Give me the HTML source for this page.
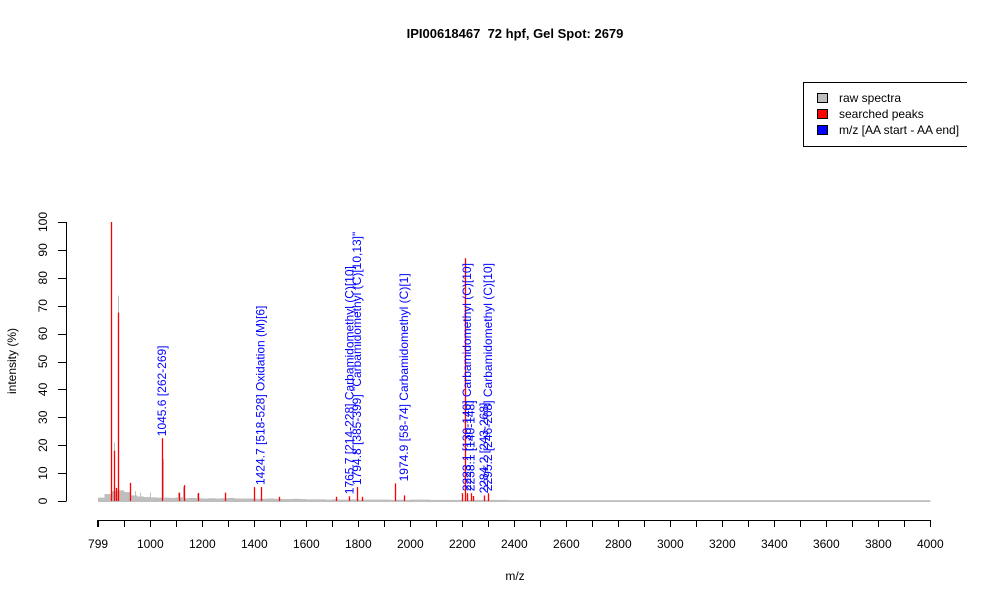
<!DOCTYPE html>
<html><head><meta charset="utf-8"><style>
body{margin:0;background:#fff;}
svg{display:block;font-family:"Liberation Sans",sans-serif;}
</style></head><body>
<svg id="chart" width="1000" height="600">
<text x="515" y="38" text-anchor="middle" font-weight="bold" font-size="13" style="white-space:pre">IPI00618467  72 hpf, Gel Spot: 2679</text>
<text transform="translate(16,361) rotate(-90)" text-anchor="middle" font-size="12">intensity (%)</text>
<text x="515" y="580" text-anchor="middle" font-size="12">m/z</text>
<g>
<rect x="803.5" y="82.5" width="170" height="64" fill="#fff" stroke="#000"/>
<rect x="817.5" y="93.5" width="10" height="9" fill="#bebebe" stroke="#000"/>
<text x="839" y="102" font-size="12">raw spectra</text>
<rect x="817.5" y="109.5" width="10" height="9" fill="#ff0000" stroke="#000"/>
<text x="839" y="118" font-size="12">searched peaks</text>
<rect x="817.5" y="125.5" width="10" height="9" fill="#0000ff" stroke="#000"/>
<text x="839" y="134" font-size="12">m/z [AA start - AA end]</text>
</g>
<rect x="967" y="0" width="33" height="160" fill="#fff"/>
<g id="plot"></g>
</svg>
<script>
// noise baseline, one value per 25 m/z bin from 799
const noiseStart = 799;
const noiseStep = 25;
const noise = [1.2,2.5,3.5,3.8,3.2,2.0,1.6,1.4,1.3,1.2,1.2,1.1,1.3,1.0,1.1,1.0,0.9,1.0,0.9,1.0,1.1,0.9,0.9,0.9,0.8,0.8,0.9,0.8,0.7,0.7,0.8,0.7,0.6,0.6,0.6,0.5,0.6,0.5,0.5,0.6,0.5,0.5,0.5,0.5,0.5,0.4,0.5,0.4,0.5,0.5,0.5,0.4,0.4,0.4,0.4,0.4,0.4,0.4,0.4,0.4,0.4,0.4,0.4,0.3,0.3,0.3,0.3,0.3,0.3,0.3,0.3,0.3,0.3,0.3,0.3,0.3,0.3,0.3,0.3,0.3,0.3,0.3,0.3,0.3,0.3,0.3,0.3,0.3,0.3,0.3,0.3,0.3,0.3,0.3,0.3,0.3,0.3,0.3,0.3,0.3,0.3,0.3,0.3,0.3,0.3,0.3,0.3,0.3,0.3,0.3,0.3,0.3,0.3,0.3,0.3,0.3,0.3,0.3,0.3,0.3,0.3,0.3,0.3,0.3,0.3,0.3,0.3,0.3];
// raw (gray) peaks
const rawMz = [859,874.3,1050,1108,1127,1181,1000,960,940];
const rawInt = [21,73.6,15,3,5,2.5,3,3,3.5];
// searched (red) peaks
const peakMz = [847.4,859,866.6,874.3,920.4,1045.6,1108.6,1127.9,1181.6,1285.4,1400.6,1424.7,1496.6,1715.6,1765.7,1794.8,1813,1942,1974.9,2197,2210,2219,2232,2240,2284,2299];
const peakInt = [100,18,4.7,67.5,6.5,22.5,3,5.7,2.9,3,5,5,1.5,1.5,1.7,5,1.5,6.3,2,2.8,87,2.8,2.8,1.8,2,2.8];
// annotations
const labelMz = [1045.6,1424.7,1765.7,1794.8,1974.9,2219,2232,2284,2299];
const labelInt = [22.5,5,1.7,5,6.3,2.8,2.8,2,2.8];
const labelText = ["1045.6 [262-269]","1424.7 [518-528] Oxidation (M)[6]","1765.7 [214-228] Carbamidomethyl (C)[10]","1794.8 [385-399] \"Carbamidomethyl (C)[10,13]\"","1974.9 [58-74] Carbamidomethyl (C)[1]","2223.1 [130-140] Carbamidomethyl (C)[10]","2238.1 [140-148]","2284.2 [243-268]","2295.2 [246-268] Carbamidomethyl (C)[10]"];
const xTicks = [799,1000,1200,1400,1600,1800,2000,2200,2400,2600,2800,3000,3200,3400,3600,3800,4000];
const yTicks = [0,10,20,30,40,50,60,70,80,90,100];

const X = mz => 150.3 + (mz - 1000) * 0.26;
const Y = v => 501 - v * 2.79;
const NS = "http://www.w3.org/2000/svg";
const g = document.getElementById('plot');
function mk(tag, attrs, parent){const e=document.createElementNS(NS,tag);for(const k in attrs)e.setAttribute(k,attrs[k]);(parent||g).appendChild(e);return e;}

const noiseG = mk('g',{});


noise.forEach((v,i)=>{
  const x0=X(noiseStart+i*noiseStep), x1=X(noiseStart+(i+1)*noiseStep);
  if(x0>933)return;
  mk('rect',{x:x0,y:Y(v),width:Math.min(x1,933)-x0+0.3,height:501-Y(v)+1,fill:'#bebebe'},noiseG);
});
rawMz.forEach((m,i)=>{
  const x=Math.round(X(m))+0.5;
  const l=mk('line',{x1:x,x2:x,y1:501,y2:Y(rawInt[i]),stroke:'#bebebe','stroke-width':1});
  
  
});
peakMz.forEach((m,i)=>{
  const x=Math.round(X(m))+0.5;
  const l=mk('line',{x1:x,x2:x,y1:501,y2:Y(peakInt[i]),stroke:'#ff0000','stroke-width':1.3});
  
  
});
labelMz.forEach((m,i)=>{
  const x=X(m)+4, y=Y(labelInt[i])-2;
  const t=mk('text',{transform:`translate(${x},${y}) rotate(-90)`,'font-size':12,fill:'#0000ff'});
  t.textContent=labelText[i];
  
  
});
// y axis
const ya=mk('g',{});


mk('line',{x1:66.5,x2:66.5,y1:Y(0),y2:Y(100),stroke:'#000'},ya);
yTicks.forEach(v=>{
  mk('line',{x1:58,x2:66.5,y1:Math.round(Y(v))+0.5,y2:Math.round(Y(v))+0.5,stroke:'#000'},ya);
  const t=mk('text',{transform:`translate(47,${Y(v)}) rotate(-90)`,'text-anchor':'middle','font-size':12},ya);
  t.textContent=v;
  
  
});
// x axis
const xa=mk('g',{});


mk('line',{x1:X(799),x2:X(4000),y1:520.5,y2:520.5,stroke:'#000'},xa);
mk('line',{x1:X(799),x2:X(799),y1:520,y2:527,stroke:'#000','stroke-width':2},xa);
for(let m=800;m<=4000;m+=100){
  mk('line',{x1:Math.round(X(m))+0.5,x2:Math.round(X(m))+0.5,y1:520,y2:527,stroke:'#000'},xa);
}
xTicks.forEach(m=>{
  const t=mk('text',{x:X(m),y:548,'text-anchor':'middle','font-size':12},xa);
  t.textContent=m;
  
  
});
</script>
</body></html>
